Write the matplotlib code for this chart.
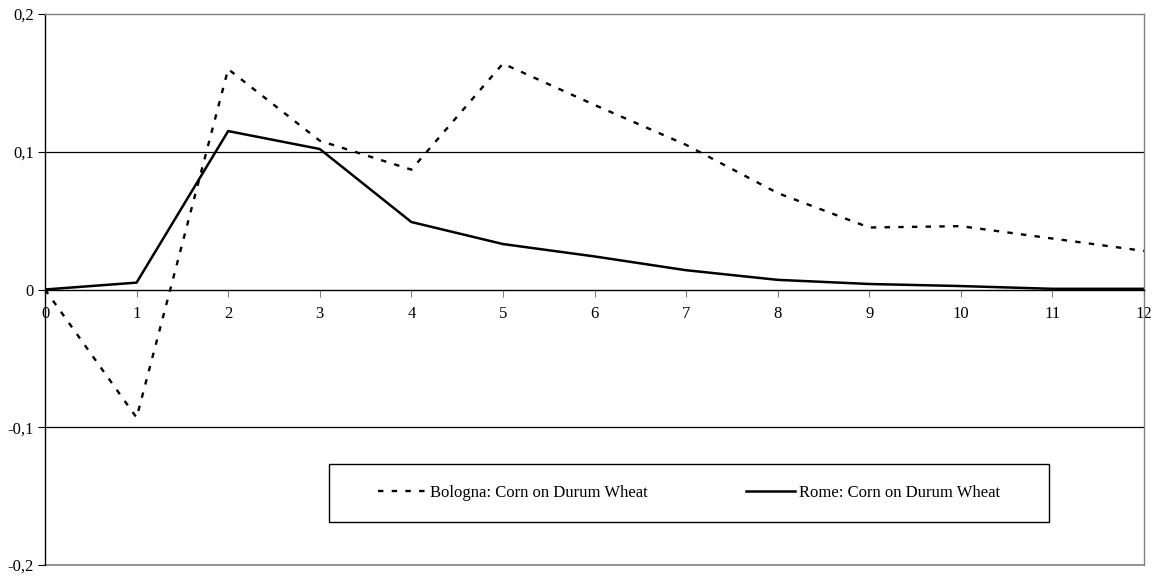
import matplotlib
matplotlib.use('Agg')
import matplotlib.pyplot as plt
from matplotlib.patches import Rectangle

plt.rcParams['font.family'] = ['Liberation Serif', 'DejaVu Serif']

# Data
periods = list(range(13))
bologna = [0.0, -0.093, 0.160, 0.108, 0.087, 0.164, 0.134, 0.105, 0.070,
           0.045, 0.046, 0.037, 0.028]
rome = [0.0, 0.005, 0.115, 0.102, 0.049, 0.033, 0.024, 0.014, 0.007,
        0.004, 0.0025, 0.0005, 0.0005]
y_ticks = [-0.2, -0.1, 0.0, 0.1, 0.2]
y_labels = ['-0,2', '-0,1', '0', '0,1', '0,2']
series_labels = ['Bologna: Corn on Durum Wheat', 'Rome: Corn on Durum Wheat']

grey = '#808080'

fig = plt.figure(figsize=(11.58, 5.79), dpi=100)
ax = fig.add_axes([45 / 1158, 14 / 579, 1099 / 1158, 551 / 579])

ax.plot(periods, bologna, color='black', lw=1.7, dashes=[2.3, 3.5],
        label=series_labels[0])
ax.plot(periods, rome, color='black', lw=1.8, label=series_labels[1])

# horizontal gridlines
for yv in [-0.1, 0.1]:
    ax.axhline(yv, color='black', lw=0.9, zorder=0)

ax.set_xlim(0, 12)
ax.set_ylim(-0.2, 0.2)
ax.set_xticks(periods)
ax.set_yticks(y_ticks)
ax.set_yticklabels(y_labels)

# x axis crosses at zero, outer frame in grey
ax.spines['bottom'].set_position(('data', 0))
ax.spines['bottom'].set_color('black')
ax.spines['bottom'].set_linewidth(1.0)
ax.spines['left'].set_color('black')
ax.spines['left'].set_linewidth(1.0)
for s in ['top', 'right']:
    ax.spines[s].set_color(grey)
    ax.spines[s].set_linewidth(1.0)
ax.axhline(-0.2, color=grey, lw=1.2, clip_on=False)

ax.tick_params(axis='x', direction='out', length=5, color=grey, labelsize=12,
               pad=7)
ax.tick_params(axis='y', direction='out', length=5, color='black', labelsize=12,
               pad=3)

# legend box
lx0, lx1 = (329 - 45) / 1099, (1049 - 45) / 1099
ly0, ly1 = (565 - 522) / 551, (565 - 464) / 551
ax.add_patch(Rectangle((lx0, ly0), lx1 - lx0, ly1 - ly0, transform=ax.transAxes,
                       fill=True, facecolor='white', edgecolor='black', lw=1.0,
                       zorder=5))
leg = ax.legend(loc='center', bbox_to_anchor=((lx0 + lx1) / 2, (ly0 + ly1) / 2),
                ncol=2, frameon=False, fontsize=12, handlelength=2.9,
                handletextpad=0.25, columnspacing=5.9)
leg.set_zorder(6)

fig.savefig('out.png', dpi=100)
